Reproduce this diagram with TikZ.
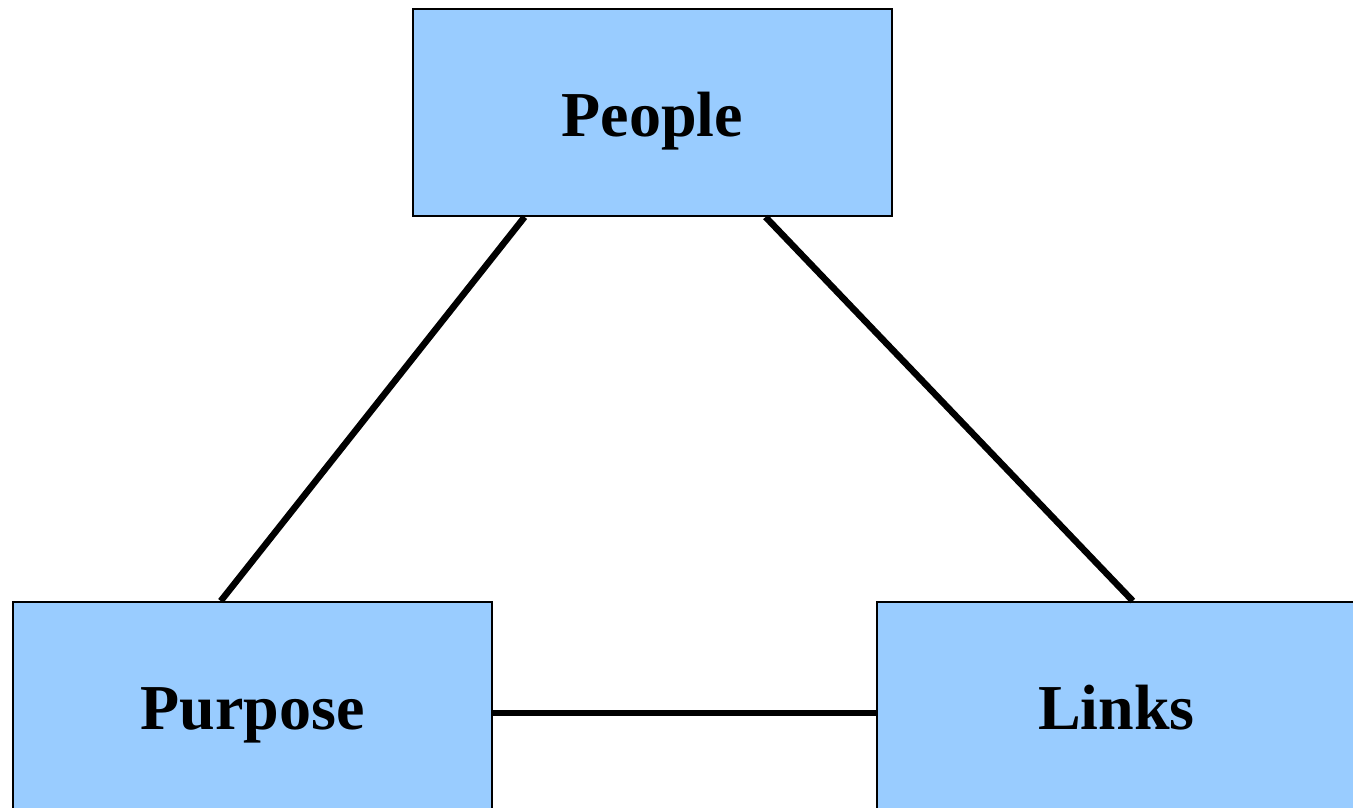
\documentclass[tikz,border=0pt]{standalone}
\usepackage{fontspec}
\setmainfont{Liberation Serif}
\usetikzlibrary{calc}
\definecolor{boxblue}{HTML}{99CCFF}
\begin{document}
\begin{tikzpicture}[x=1pt,y=-1pt,
  box/.style={draw=black, line width=2pt, fill=boxblue, minimum width=479pt, minimum height=207pt,
    inner sep=0pt, text height=47pt, text depth=0pt, font=\fontsize{64}{70}\selectfont\bfseries},
  link/.style={line width=6.5pt, black}]
\useasboundingbox (0,0) rectangle (1353,808);
\node[box] (people) at (652.5,112.5) {People};
\node[box] (purpose) at (252.5,705.5) {Purpose};
\node[box] (links) at (1116.5,705.5) {Links};
\draw[link] ($(people.south west)!0.234!(people.south east)$) -- ($(purpose.north west)!0.434!(purpose.north east)$);
\draw[link] ($(people.south west)!0.735!(people.south east)$) -- ($(links.north west)!0.534!(links.north east)$);
\draw[link] ($(purpose.north east)!0.536!(purpose.south east)$) -- ($(links.north west)!0.536!(links.south west)$);
\end{tikzpicture}
\end{document}
